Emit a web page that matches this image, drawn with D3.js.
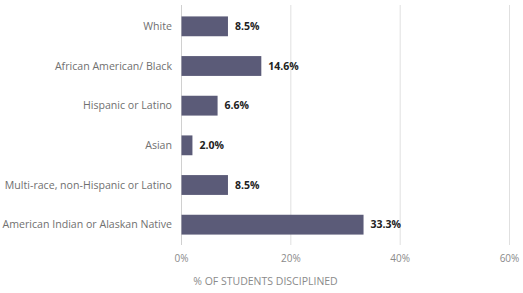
<!DOCTYPE html>
<html><head><meta charset="utf-8">
<script src="https://cdn.jsdelivr.net/npm/d3@7"></script>
<style>body{margin:0;background:#fff}svg{display:block}</style>
</head><body>
<script>
const categories = ["White","African American/ Black","Hispanic or Latino","Asian","Multi-race, non-Hispanic or Latino","American Indian or Alaskan Native"];
const values = [8.5,14.6,6.6,2.0,8.5,33.3];
const valueLabels = ["8.5%","14.6%","6.6%","2.0%","8.5%","33.3%"];
const ticks = [0,20,40,60];
const axisTitle = "% OF STUDENTS DISCIPLINED";

const W=523,H=293;
const svg=d3.select("body").append("svg").attr("width",W).attr("height",H);
const x=d3.scaleLinear().domain([0,60]).range([181.5,509.5]);
const y=d3.scaleBand().domain(categories).range([6.5,244.5]).paddingInner(0.5).paddingOuter(0.25);
const font="'Open Sans', sans-serif";

svg.append("g").selectAll("line").data(ticks).join("line")
  .attr("x1",d=>x(d)).attr("x2",d=>x(d)).attr("y1",5).attr("y2",245)
  .attr("stroke",d=>d===0?"#d0d0d0":"#e0e0e0").attr("stroke-width",1);

svg.append("g").selectAll("rect").data(values).join("rect")
  .attr("x",x(0)).attr("y",(d,i)=>y(categories[i]))
  .attr("width",d=>x(d)-x(0)).attr("height",y.bandwidth())
  .attr("fill","#5b5b78");

svg.append("g").selectAll("text").data(values).join("text")
  .attr("x",d=>x(d)+7).attr("y",(d,i)=>y(categories[i])+y.bandwidth()/2)
  .attr("dy","0.35em").attr("font-family",font).attr("font-size",10.5).attr("font-weight","bold")
  .attr("fill","#222").text((d,i)=>valueLabels[i]);

svg.append("g").selectAll("text").data(categories).join("text")
  .attr("x",172).attr("y",d=>y(d)+y.bandwidth()/2).attr("dy","0.35em")
  .attr("text-anchor","end").attr("font-family",font).attr("font-size",10.6).attr("fill","#707070")
  .text(d=>d);

svg.append("g").selectAll("text").data(ticks).join("text")
  .attr("x",d=>x(d)).attr("y",258).attr("dy","0.35em").attr("text-anchor","middle")
  .attr("font-family",font).attr("font-size",10).attr("fill","#8a8a8a").text(d=>d+"%");

svg.append("text").attr("x",265.5).attr("y",281).attr("dy","0.35em").attr("text-anchor","middle")
  .attr("font-family",font).attr("font-size",10.5).attr("fill","#8a8a8a").text(axisTitle);
</script>
</body></html>
